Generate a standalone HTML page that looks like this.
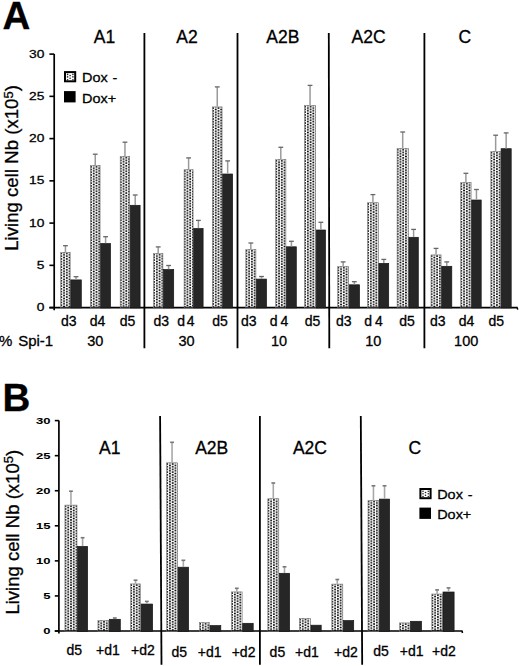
<!DOCTYPE html>
<html><head><meta charset="utf-8"><style>
html,body{margin:0;padding:0;background:#fff;width:520px;height:666px;overflow:hidden;position:relative}
</style></head><body>
<svg width="520" height="666" viewBox="0 0 520 666" style="position:absolute;left:0;top:0"><style>text{stroke:#000;stroke-width:0.3px} text.tk{stroke-width:0.25px} text.tkb{stroke-width:0.05px}</style><defs><pattern id="pa0" patternUnits="userSpaceOnUse" x="61.30" y="253.50" width="5.5" height="2.72"><g fill="#000"><circle cx="0" cy="0" r="1.0"/><circle cx="5.5" cy="0" r="1.0"/><circle cx="0" cy="2.72" r="1.0"/><circle cx="5.5" cy="2.72" r="1.0"/><circle cx="2.75" cy="1.36" r="1.0"/></g></pattern><pattern id="pa1" patternUnits="userSpaceOnUse" x="91.00" y="166.80" width="5.5" height="2.72"><g fill="#000"><circle cx="0" cy="0" r="1.0"/><circle cx="5.5" cy="0" r="1.0"/><circle cx="0" cy="2.72" r="1.0"/><circle cx="5.5" cy="2.72" r="1.0"/><circle cx="2.75" cy="1.36" r="1.0"/></g></pattern><pattern id="pa2" patternUnits="userSpaceOnUse" x="120.80" y="157.70" width="5.5" height="2.72"><g fill="#000"><circle cx="0" cy="0" r="1.0"/><circle cx="5.5" cy="0" r="1.0"/><circle cx="0" cy="2.72" r="1.0"/><circle cx="5.5" cy="2.72" r="1.0"/><circle cx="2.75" cy="1.36" r="1.0"/></g></pattern><pattern id="pa3" patternUnits="userSpaceOnUse" x="154.10" y="254.70" width="5.5" height="2.72"><g fill="#000"><circle cx="0" cy="0" r="1.0"/><circle cx="5.5" cy="0" r="1.0"/><circle cx="0" cy="2.72" r="1.0"/><circle cx="5.5" cy="2.72" r="1.0"/><circle cx="2.75" cy="1.36" r="1.0"/></g></pattern><pattern id="pa4" patternUnits="userSpaceOnUse" x="184.70" y="170.90" width="5.5" height="2.72"><g fill="#000"><circle cx="0" cy="0" r="1.0"/><circle cx="5.5" cy="0" r="1.0"/><circle cx="0" cy="2.72" r="1.0"/><circle cx="5.5" cy="2.72" r="1.0"/><circle cx="2.75" cy="1.36" r="1.0"/></g></pattern><pattern id="pa5" patternUnits="userSpaceOnUse" x="213.00" y="108.10" width="5.5" height="2.72"><g fill="#000"><circle cx="0" cy="0" r="1.0"/><circle cx="5.5" cy="0" r="1.0"/><circle cx="0" cy="2.72" r="1.0"/><circle cx="5.5" cy="2.72" r="1.0"/><circle cx="2.75" cy="1.36" r="1.0"/></g></pattern><pattern id="pa6" patternUnits="userSpaceOnUse" x="246.40" y="250.80" width="5.5" height="2.72"><g fill="#000"><circle cx="0" cy="0" r="1.0"/><circle cx="5.5" cy="0" r="1.0"/><circle cx="0" cy="2.72" r="1.0"/><circle cx="5.5" cy="2.72" r="1.0"/><circle cx="2.75" cy="1.36" r="1.0"/></g></pattern><pattern id="pa7" patternUnits="userSpaceOnUse" x="276.30" y="160.80" width="5.5" height="2.72"><g fill="#000"><circle cx="0" cy="0" r="1.0"/><circle cx="5.5" cy="0" r="1.0"/><circle cx="0" cy="2.72" r="1.0"/><circle cx="5.5" cy="2.72" r="1.0"/><circle cx="2.75" cy="1.36" r="1.0"/></g></pattern><pattern id="pa8" patternUnits="userSpaceOnUse" x="305.10" y="106.70" width="5.5" height="2.72"><g fill="#000"><circle cx="0" cy="0" r="1.0"/><circle cx="5.5" cy="0" r="1.0"/><circle cx="0" cy="2.72" r="1.0"/><circle cx="5.5" cy="2.72" r="1.0"/><circle cx="2.75" cy="1.36" r="1.0"/></g></pattern><pattern id="pa9" patternUnits="userSpaceOnUse" x="338.30" y="267.70" width="5.5" height="2.72"><g fill="#000"><circle cx="0" cy="0" r="1.0"/><circle cx="5.5" cy="0" r="1.0"/><circle cx="0" cy="2.72" r="1.0"/><circle cx="5.5" cy="2.72" r="1.0"/><circle cx="2.75" cy="1.36" r="1.0"/></g></pattern><pattern id="pa10" patternUnits="userSpaceOnUse" x="368.10" y="203.90" width="5.5" height="2.72"><g fill="#000"><circle cx="0" cy="0" r="1.0"/><circle cx="5.5" cy="0" r="1.0"/><circle cx="0" cy="2.72" r="1.0"/><circle cx="5.5" cy="2.72" r="1.0"/><circle cx="2.75" cy="1.36" r="1.0"/></g></pattern><pattern id="pa11" patternUnits="userSpaceOnUse" x="397.70" y="149.70" width="5.5" height="2.72"><g fill="#000"><circle cx="0" cy="0" r="1.0"/><circle cx="5.5" cy="0" r="1.0"/><circle cx="0" cy="2.72" r="1.0"/><circle cx="5.5" cy="2.72" r="1.0"/><circle cx="2.75" cy="1.36" r="1.0"/></g></pattern><pattern id="pa12" patternUnits="userSpaceOnUse" x="431.60" y="256.10" width="5.5" height="2.72"><g fill="#000"><circle cx="0" cy="0" r="1.0"/><circle cx="5.5" cy="0" r="1.0"/><circle cx="0" cy="2.72" r="1.0"/><circle cx="5.5" cy="2.72" r="1.0"/><circle cx="2.75" cy="1.36" r="1.0"/></g></pattern><pattern id="pa13" patternUnits="userSpaceOnUse" x="461.30" y="183.70" width="5.5" height="2.72"><g fill="#000"><circle cx="0" cy="0" r="1.0"/><circle cx="5.5" cy="0" r="1.0"/><circle cx="0" cy="2.72" r="1.0"/><circle cx="5.5" cy="2.72" r="1.0"/><circle cx="2.75" cy="1.36" r="1.0"/></g></pattern><pattern id="pa14" patternUnits="userSpaceOnUse" x="491.40" y="152.70" width="5.5" height="2.72"><g fill="#000"><circle cx="0" cy="0" r="1.0"/><circle cx="5.5" cy="0" r="1.0"/><circle cx="0" cy="2.72" r="1.0"/><circle cx="5.5" cy="2.72" r="1.0"/><circle cx="2.75" cy="1.36" r="1.0"/></g></pattern><pattern id="pb0" patternUnits="userSpaceOnUse" x="65.50" y="506.30" width="5.5" height="2.72"><g fill="#000"><circle cx="0" cy="0" r="1.0"/><circle cx="5.5" cy="0" r="1.0"/><circle cx="0" cy="2.72" r="1.0"/><circle cx="5.5" cy="2.72" r="1.0"/><circle cx="2.75" cy="1.36" r="1.0"/></g></pattern><pattern id="pb1" patternUnits="userSpaceOnUse" x="98.50" y="621.80" width="5.5" height="2.72"><g fill="#000"><circle cx="0" cy="0" r="1.0"/><circle cx="5.5" cy="0" r="1.0"/><circle cx="0" cy="2.72" r="1.0"/><circle cx="5.5" cy="2.72" r="1.0"/><circle cx="2.75" cy="1.36" r="1.0"/></g></pattern><pattern id="pb2" patternUnits="userSpaceOnUse" x="131.20" y="585.10" width="5.5" height="2.72"><g fill="#000"><circle cx="0" cy="0" r="1.0"/><circle cx="5.5" cy="0" r="1.0"/><circle cx="0" cy="2.72" r="1.0"/><circle cx="5.5" cy="2.72" r="1.0"/><circle cx="2.75" cy="1.36" r="1.0"/></g></pattern><pattern id="pb3" patternUnits="userSpaceOnUse" x="167.20" y="464.00" width="5.5" height="2.72"><g fill="#000"><circle cx="0" cy="0" r="1.0"/><circle cx="5.5" cy="0" r="1.0"/><circle cx="0" cy="2.72" r="1.0"/><circle cx="5.5" cy="2.72" r="1.0"/><circle cx="2.75" cy="1.36" r="1.0"/></g></pattern><pattern id="pb4" patternUnits="userSpaceOnUse" x="200.10" y="623.80" width="5.5" height="2.72"><g fill="#000"><circle cx="0" cy="0" r="1.0"/><circle cx="5.5" cy="0" r="1.0"/><circle cx="0" cy="2.72" r="1.0"/><circle cx="5.5" cy="2.72" r="1.0"/><circle cx="2.75" cy="1.36" r="1.0"/></g></pattern><pattern id="pb5" patternUnits="userSpaceOnUse" x="232.10" y="593.10" width="5.5" height="2.72"><g fill="#000"><circle cx="0" cy="0" r="1.0"/><circle cx="5.5" cy="0" r="1.0"/><circle cx="0" cy="2.72" r="1.0"/><circle cx="5.5" cy="2.72" r="1.0"/><circle cx="2.75" cy="1.36" r="1.0"/></g></pattern><pattern id="pb6" patternUnits="userSpaceOnUse" x="268.40" y="499.90" width="5.5" height="2.72"><g fill="#000"><circle cx="0" cy="0" r="1.0"/><circle cx="5.5" cy="0" r="1.0"/><circle cx="0" cy="2.72" r="1.0"/><circle cx="5.5" cy="2.72" r="1.0"/><circle cx="2.75" cy="1.36" r="1.0"/></g></pattern><pattern id="pb7" patternUnits="userSpaceOnUse" x="300.00" y="619.60" width="5.5" height="2.72"><g fill="#000"><circle cx="0" cy="0" r="1.0"/><circle cx="5.5" cy="0" r="1.0"/><circle cx="0" cy="2.72" r="1.0"/><circle cx="5.5" cy="2.72" r="1.0"/><circle cx="2.75" cy="1.36" r="1.0"/></g></pattern><pattern id="pb8" patternUnits="userSpaceOnUse" x="332.40" y="585.30" width="5.5" height="2.72"><g fill="#000"><circle cx="0" cy="0" r="1.0"/><circle cx="5.5" cy="0" r="1.0"/><circle cx="0" cy="2.72" r="1.0"/><circle cx="5.5" cy="2.72" r="1.0"/><circle cx="2.75" cy="1.36" r="1.0"/></g></pattern><pattern id="pb9" patternUnits="userSpaceOnUse" x="368.60" y="501.60" width="5.5" height="2.72"><g fill="#000"><circle cx="0" cy="0" r="1.0"/><circle cx="5.5" cy="0" r="1.0"/><circle cx="0" cy="2.72" r="1.0"/><circle cx="5.5" cy="2.72" r="1.0"/><circle cx="2.75" cy="1.36" r="1.0"/></g></pattern><pattern id="pb10" patternUnits="userSpaceOnUse" x="400.20" y="624.10" width="5.5" height="2.72"><g fill="#000"><circle cx="0" cy="0" r="1.0"/><circle cx="5.5" cy="0" r="1.0"/><circle cx="0" cy="2.72" r="1.0"/><circle cx="5.5" cy="2.72" r="1.0"/><circle cx="2.75" cy="1.36" r="1.0"/></g></pattern><pattern id="pb11" patternUnits="userSpaceOnUse" x="432.40" y="595.20" width="5.5" height="2.72"><g fill="#000"><circle cx="0" cy="0" r="1.0"/><circle cx="5.5" cy="0" r="1.0"/><circle cx="0" cy="2.72" r="1.0"/><circle cx="5.5" cy="2.72" r="1.0"/><circle cx="2.75" cy="1.36" r="1.0"/></g></pattern></defs><rect width="520" height="666" fill="#fff"/>
<g font-family='"Liberation Sans", sans-serif' fill="#000">
<text x="2.6" y="28.5" font-size="38.5" font-weight="bold">A</text>
<text x="2.5" y="410.8" font-size="38.5" font-weight="bold">B</text>
<line x1="54.2" y1="54.0" x2="54.2" y2="310.20000000000005" stroke="#000" stroke-width="1.7"/>
<line x1="49.4" y1="307.6" x2="517.7" y2="307.6" stroke="#000" stroke-width="1.9"/>
<line x1="517.2" y1="307.6" x2="517.7" y2="309.6" stroke="#000" stroke-width="1.5"/>
<line x1="144.4" y1="33.0" x2="144.4" y2="348.2" stroke="#000" stroke-width="1.8"/>
<line x1="237.5" y1="33.0" x2="237.5" y2="348.2" stroke="#000" stroke-width="1.8"/>
<line x1="328.8" y1="33.0" x2="329.3" y2="348.2" stroke="#000" stroke-width="1.8"/>
<line x1="424.4" y1="33.0" x2="424.4" y2="348.2" stroke="#000" stroke-width="1.8"/>
<line x1="49.4" y1="307.60" x2="54.2" y2="307.60" stroke="#000" stroke-width="1.6"/>
<text transform="translate(44.3,311.17) scale(1.35,1)" text-anchor="end" font-weight="normal" class="tk" font-size="10.2">0</text>
<line x1="49.4" y1="265.35" x2="54.2" y2="265.35" stroke="#000" stroke-width="1.6"/>
<text transform="translate(44.3,268.92) scale(1.35,1)" text-anchor="end" font-weight="normal" class="tk" font-size="10.2">5</text>
<line x1="49.4" y1="223.10" x2="54.2" y2="223.10" stroke="#000" stroke-width="1.6"/>
<text transform="translate(44.3,226.67) scale(1.35,1)" text-anchor="end" font-weight="normal" class="tk" font-size="10.2">10</text>
<line x1="49.4" y1="180.85" x2="54.2" y2="180.85" stroke="#000" stroke-width="1.6"/>
<text transform="translate(44.3,184.42) scale(1.35,1)" text-anchor="end" font-weight="normal" class="tk" font-size="10.2">15</text>
<line x1="49.4" y1="138.60" x2="54.2" y2="138.60" stroke="#000" stroke-width="1.6"/>
<text transform="translate(44.3,142.17) scale(1.35,1)" text-anchor="end" font-weight="normal" class="tk" font-size="10.2">20</text>
<line x1="49.4" y1="96.35" x2="54.2" y2="96.35" stroke="#000" stroke-width="1.6"/>
<text transform="translate(44.3,99.92) scale(1.35,1)" text-anchor="end" font-weight="normal" class="tk" font-size="10.2">25</text>
<line x1="49.4" y1="54.10" x2="54.2" y2="54.10" stroke="#000" stroke-width="1.6"/>
<text transform="translate(44.3,57.67) scale(1.35,1)" text-anchor="end" font-weight="normal" class="tk" font-size="10.2">30</text>
<line x1="58.9" y1="420.4" x2="58.9" y2="633.6" stroke="#000" stroke-width="1.7"/>
<line x1="54.8" y1="631.0" x2="462.5" y2="631.0" stroke="#000" stroke-width="1.6"/>
<line x1="462.0" y1="631.0" x2="462.5" y2="633.0" stroke="#000" stroke-width="1.5"/>
<line x1="160.1" y1="416.0" x2="161.5" y2="664.7" stroke="#000" stroke-width="1.8"/>
<line x1="259.9" y1="416.0" x2="259.9" y2="664.7" stroke="#000" stroke-width="1.8"/>
<line x1="360.8" y1="416.0" x2="362.2" y2="664.7" stroke="#000" stroke-width="1.8"/>
<line x1="54.8" y1="631.00" x2="58.9" y2="631.00" stroke="#000" stroke-width="1.6"/>
<text transform="translate(50.4,634.15) scale(1.45,1)" text-anchor="end" font-weight="bold" class="tkb" font-size="9.0">0</text>
<line x1="54.8" y1="595.93" x2="58.9" y2="595.93" stroke="#000" stroke-width="1.6"/>
<text transform="translate(50.4,599.08) scale(1.45,1)" text-anchor="end" font-weight="bold" class="tkb" font-size="9.0">5</text>
<line x1="54.8" y1="560.87" x2="58.9" y2="560.87" stroke="#000" stroke-width="1.6"/>
<text transform="translate(50.4,564.02) scale(1.45,1)" text-anchor="end" font-weight="bold" class="tkb" font-size="9.0">10</text>
<line x1="54.8" y1="525.80" x2="58.9" y2="525.80" stroke="#000" stroke-width="1.6"/>
<text transform="translate(50.4,528.95) scale(1.45,1)" text-anchor="end" font-weight="bold" class="tkb" font-size="9.0">15</text>
<line x1="54.8" y1="490.73" x2="58.9" y2="490.73" stroke="#000" stroke-width="1.6"/>
<text transform="translate(50.4,493.88) scale(1.45,1)" text-anchor="end" font-weight="bold" class="tkb" font-size="9.0">20</text>
<line x1="54.8" y1="455.67" x2="58.9" y2="455.67" stroke="#000" stroke-width="1.6"/>
<text transform="translate(50.4,458.82) scale(1.45,1)" text-anchor="end" font-weight="bold" class="tkb" font-size="9.0">25</text>
<line x1="54.8" y1="420.60" x2="58.9" y2="420.60" stroke="#000" stroke-width="1.6"/>
<text transform="translate(50.4,423.75) scale(1.45,1)" text-anchor="end" font-weight="bold" class="tkb" font-size="9.0">30</text>
<rect x="60.70" y="252.30" width="9.50" height="55.60" fill="url(#pa0)" stroke="#777" stroke-width="0.6"/>
<rect x="70.80" y="279.90" width="10.50" height="28.00" fill="#262626" stroke="#141414" stroke-width="0.7"/>
<line x1="65.45" y1="252.0" x2="65.45" y2="245.7" stroke="#9a9a9a" stroke-width="1.5"/>
<line x1="63.05" y1="245.7" x2="67.85" y2="245.7" stroke="#666" stroke-width="1.3"/>
<line x1="76.05" y1="279.6" x2="76.05" y2="276.7" stroke="#9a9a9a" stroke-width="1.5"/>
<line x1="73.65" y1="276.7" x2="78.45" y2="276.7" stroke="#666" stroke-width="1.3"/>
<rect x="90.40" y="165.60" width="9.70" height="142.30" fill="url(#pa1)" stroke="#777" stroke-width="0.6"/>
<rect x="100.70" y="243.50" width="9.80" height="64.40" fill="#262626" stroke="#141414" stroke-width="0.7"/>
<line x1="95.25" y1="165.3" x2="95.25" y2="154.2" stroke="#9a9a9a" stroke-width="1.5"/>
<line x1="92.85" y1="154.2" x2="97.65" y2="154.2" stroke="#666" stroke-width="1.3"/>
<line x1="105.60" y1="243.2" x2="105.60" y2="236.7" stroke="#9a9a9a" stroke-width="1.5"/>
<line x1="103.20" y1="236.7" x2="108.00" y2="236.7" stroke="#666" stroke-width="1.3"/>
<rect x="120.20" y="156.50" width="9.50" height="151.40" fill="url(#pa2)" stroke="#777" stroke-width="0.6"/>
<rect x="130.30" y="205.30" width="9.80" height="102.60" fill="#262626" stroke="#141414" stroke-width="0.7"/>
<line x1="124.95" y1="156.2" x2="124.95" y2="142.2" stroke="#9a9a9a" stroke-width="1.5"/>
<line x1="122.55" y1="142.2" x2="127.35" y2="142.2" stroke="#666" stroke-width="1.3"/>
<line x1="135.20" y1="205.0" x2="135.20" y2="195.0" stroke="#9a9a9a" stroke-width="1.5"/>
<line x1="132.80" y1="195.0" x2="137.60" y2="195.0" stroke="#666" stroke-width="1.3"/>
<rect x="153.50" y="253.50" width="9.40" height="54.40" fill="url(#pa3)" stroke="#777" stroke-width="0.6"/>
<rect x="163.50" y="269.50" width="10.20" height="38.40" fill="#262626" stroke="#141414" stroke-width="0.7"/>
<line x1="158.20" y1="253.2" x2="158.20" y2="246.9" stroke="#9a9a9a" stroke-width="1.5"/>
<line x1="155.80" y1="246.9" x2="160.60" y2="246.9" stroke="#666" stroke-width="1.3"/>
<line x1="168.60" y1="269.2" x2="168.60" y2="265.5" stroke="#9a9a9a" stroke-width="1.5"/>
<line x1="166.20" y1="265.5" x2="171.00" y2="265.5" stroke="#666" stroke-width="1.3"/>
<rect x="184.10" y="169.70" width="9.00" height="138.20" fill="url(#pa4)" stroke="#777" stroke-width="0.6"/>
<rect x="193.70" y="228.50" width="9.40" height="79.40" fill="#262626" stroke="#141414" stroke-width="0.7"/>
<line x1="188.60" y1="169.4" x2="188.60" y2="157.9" stroke="#9a9a9a" stroke-width="1.5"/>
<line x1="186.20" y1="157.9" x2="191.00" y2="157.9" stroke="#666" stroke-width="1.3"/>
<line x1="198.40" y1="228.2" x2="198.40" y2="220.4" stroke="#9a9a9a" stroke-width="1.5"/>
<line x1="196.00" y1="220.4" x2="200.80" y2="220.4" stroke="#666" stroke-width="1.3"/>
<rect x="212.40" y="106.90" width="9.70" height="201.00" fill="url(#pa5)" stroke="#777" stroke-width="0.6"/>
<rect x="222.70" y="174.00" width="9.90" height="133.90" fill="#262626" stroke="#141414" stroke-width="0.7"/>
<line x1="217.25" y1="106.6" x2="217.25" y2="86.9" stroke="#9a9a9a" stroke-width="1.5"/>
<line x1="214.85" y1="86.9" x2="219.65" y2="86.9" stroke="#666" stroke-width="1.3"/>
<line x1="227.65" y1="173.7" x2="227.65" y2="160.9" stroke="#9a9a9a" stroke-width="1.5"/>
<line x1="225.25" y1="160.9" x2="230.05" y2="160.9" stroke="#666" stroke-width="1.3"/>
<rect x="245.80" y="249.60" width="10.10" height="58.30" fill="url(#pa6)" stroke="#777" stroke-width="0.6"/>
<rect x="256.50" y="279.10" width="10.00" height="28.80" fill="#262626" stroke="#141414" stroke-width="0.7"/>
<line x1="250.85" y1="249.3" x2="250.85" y2="243.0" stroke="#9a9a9a" stroke-width="1.5"/>
<line x1="248.45" y1="243.0" x2="253.25" y2="243.0" stroke="#666" stroke-width="1.3"/>
<line x1="261.50" y1="278.8" x2="261.50" y2="276.5" stroke="#9a9a9a" stroke-width="1.5"/>
<line x1="259.10" y1="276.5" x2="263.90" y2="276.5" stroke="#666" stroke-width="1.3"/>
<rect x="275.70" y="159.60" width="10.20" height="148.30" fill="url(#pa7)" stroke="#777" stroke-width="0.6"/>
<rect x="286.50" y="246.80" width="9.80" height="61.10" fill="#262626" stroke="#141414" stroke-width="0.7"/>
<line x1="280.80" y1="159.3" x2="280.80" y2="147.3" stroke="#9a9a9a" stroke-width="1.5"/>
<line x1="278.40" y1="147.3" x2="283.20" y2="147.3" stroke="#666" stroke-width="1.3"/>
<line x1="291.40" y1="246.5" x2="291.40" y2="241.3" stroke="#9a9a9a" stroke-width="1.5"/>
<line x1="289.00" y1="241.3" x2="293.80" y2="241.3" stroke="#666" stroke-width="1.3"/>
<rect x="304.50" y="105.50" width="11.10" height="202.40" fill="url(#pa8)" stroke="#777" stroke-width="0.6"/>
<rect x="316.20" y="230.00" width="9.30" height="77.90" fill="#262626" stroke="#141414" stroke-width="0.7"/>
<line x1="310.05" y1="105.2" x2="310.05" y2="85.4" stroke="#9a9a9a" stroke-width="1.5"/>
<line x1="307.65" y1="85.4" x2="312.45" y2="85.4" stroke="#666" stroke-width="1.3"/>
<line x1="320.85" y1="229.7" x2="320.85" y2="222.3" stroke="#9a9a9a" stroke-width="1.5"/>
<line x1="318.45" y1="222.3" x2="323.25" y2="222.3" stroke="#666" stroke-width="1.3"/>
<rect x="337.70" y="266.50" width="10.90" height="41.40" fill="url(#pa9)" stroke="#777" stroke-width="0.6"/>
<rect x="349.20" y="284.80" width="10.30" height="23.10" fill="#262626" stroke="#141414" stroke-width="0.7"/>
<line x1="343.15" y1="266.2" x2="343.15" y2="261.9" stroke="#9a9a9a" stroke-width="1.5"/>
<line x1="340.75" y1="261.9" x2="345.55" y2="261.9" stroke="#666" stroke-width="1.3"/>
<line x1="354.35" y1="284.5" x2="354.35" y2="281.7" stroke="#9a9a9a" stroke-width="1.5"/>
<line x1="351.95" y1="281.7" x2="356.75" y2="281.7" stroke="#666" stroke-width="1.3"/>
<rect x="367.50" y="202.70" width="10.80" height="105.20" fill="url(#pa10)" stroke="#777" stroke-width="0.6"/>
<rect x="378.90" y="263.40" width="9.80" height="44.50" fill="#262626" stroke="#141414" stroke-width="0.7"/>
<line x1="372.90" y1="202.4" x2="372.90" y2="194.6" stroke="#9a9a9a" stroke-width="1.5"/>
<line x1="370.50" y1="194.6" x2="375.30" y2="194.6" stroke="#666" stroke-width="1.3"/>
<line x1="383.80" y1="263.1" x2="383.80" y2="259.4" stroke="#9a9a9a" stroke-width="1.5"/>
<line x1="381.40" y1="259.4" x2="386.20" y2="259.4" stroke="#666" stroke-width="1.3"/>
<rect x="397.10" y="148.50" width="11.20" height="159.40" fill="url(#pa11)" stroke="#777" stroke-width="0.6"/>
<rect x="408.90" y="237.30" width="9.40" height="70.60" fill="#262626" stroke="#141414" stroke-width="0.7"/>
<line x1="402.70" y1="148.2" x2="402.70" y2="132.0" stroke="#9a9a9a" stroke-width="1.5"/>
<line x1="400.30" y1="132.0" x2="405.10" y2="132.0" stroke="#666" stroke-width="1.3"/>
<line x1="413.60" y1="237.0" x2="413.60" y2="229.4" stroke="#9a9a9a" stroke-width="1.5"/>
<line x1="411.20" y1="229.4" x2="416.00" y2="229.4" stroke="#666" stroke-width="1.3"/>
<rect x="431.00" y="254.90" width="10.10" height="53.00" fill="url(#pa12)" stroke="#777" stroke-width="0.6"/>
<rect x="441.70" y="266.30" width="10.10" height="41.60" fill="#262626" stroke="#141414" stroke-width="0.7"/>
<line x1="436.05" y1="254.6" x2="436.05" y2="248.4" stroke="#9a9a9a" stroke-width="1.5"/>
<line x1="433.65" y1="248.4" x2="438.45" y2="248.4" stroke="#666" stroke-width="1.3"/>
<line x1="446.75" y1="266.0" x2="446.75" y2="261.9" stroke="#9a9a9a" stroke-width="1.5"/>
<line x1="444.35" y1="261.9" x2="449.15" y2="261.9" stroke="#666" stroke-width="1.3"/>
<rect x="460.70" y="182.50" width="10.40" height="125.40" fill="url(#pa13)" stroke="#777" stroke-width="0.6"/>
<rect x="471.70" y="200.00" width="9.50" height="107.90" fill="#262626" stroke="#141414" stroke-width="0.7"/>
<line x1="465.90" y1="182.2" x2="465.90" y2="173.3" stroke="#9a9a9a" stroke-width="1.5"/>
<line x1="463.50" y1="173.3" x2="468.30" y2="173.3" stroke="#666" stroke-width="1.3"/>
<line x1="476.45" y1="199.7" x2="476.45" y2="189.5" stroke="#9a9a9a" stroke-width="1.5"/>
<line x1="474.05" y1="189.5" x2="478.85" y2="189.5" stroke="#666" stroke-width="1.3"/>
<rect x="490.80" y="151.50" width="9.70" height="156.40" fill="url(#pa14)" stroke="#777" stroke-width="0.6"/>
<rect x="501.10" y="148.70" width="10.10" height="159.20" fill="#262626" stroke="#141414" stroke-width="0.7"/>
<line x1="495.65" y1="151.2" x2="495.65" y2="135.2" stroke="#9a9a9a" stroke-width="1.5"/>
<line x1="493.25" y1="135.2" x2="498.05" y2="135.2" stroke="#666" stroke-width="1.3"/>
<line x1="506.15" y1="148.4" x2="506.15" y2="132.9" stroke="#9a9a9a" stroke-width="1.5"/>
<line x1="503.75" y1="132.9" x2="508.55" y2="132.9" stroke="#666" stroke-width="1.3"/>
<rect x="64.90" y="505.10" width="12.10" height="126.20" fill="url(#pb0)" stroke="#777" stroke-width="0.6"/>
<rect x="77.60" y="546.40" width="10.00" height="84.90" fill="#262626" stroke="#141414" stroke-width="0.7"/>
<line x1="70.95" y1="504.8" x2="70.95" y2="491.2" stroke="#a8a8a8" stroke-width="1.6"/>
<line x1="69.05" y1="491.2" x2="72.85" y2="491.2" stroke="#777" stroke-width="1.6"/>
<line x1="82.60" y1="546.1" x2="82.60" y2="537.7" stroke="#a8a8a8" stroke-width="1.6"/>
<line x1="80.70" y1="537.7" x2="84.50" y2="537.7" stroke="#777" stroke-width="1.6"/>
<rect x="97.90" y="620.60" width="10.80" height="10.70" fill="url(#pb1)" stroke="#777" stroke-width="0.6"/>
<rect x="109.30" y="619.30" width="11.00" height="12.00" fill="#262626" stroke="#141414" stroke-width="0.7"/>
<line x1="114.80" y1="619.0" x2="114.80" y2="618.0" stroke="#a8a8a8" stroke-width="1.6"/>
<line x1="112.90" y1="618.0" x2="116.70" y2="618.0" stroke="#777" stroke-width="1.6"/>
<rect x="130.60" y="583.90" width="9.90" height="47.40" fill="url(#pb2)" stroke="#777" stroke-width="0.6"/>
<rect x="141.10" y="604.05" width="11.50" height="27.25" fill="#262626" stroke="#141414" stroke-width="0.7"/>
<line x1="135.55" y1="583.6" x2="135.55" y2="580.2" stroke="#a8a8a8" stroke-width="1.6"/>
<line x1="133.65" y1="580.2" x2="137.45" y2="580.2" stroke="#777" stroke-width="1.6"/>
<line x1="146.85" y1="603.75" x2="146.85" y2="601.4" stroke="#a8a8a8" stroke-width="1.6"/>
<line x1="144.95" y1="601.4" x2="148.75" y2="601.4" stroke="#777" stroke-width="1.6"/>
<rect x="166.60" y="462.80" width="10.90" height="168.50" fill="url(#pb3)" stroke="#777" stroke-width="0.6"/>
<rect x="178.10" y="567.20" width="10.50" height="64.10" fill="#262626" stroke="#141414" stroke-width="0.7"/>
<line x1="172.05" y1="462.5" x2="172.05" y2="442.3" stroke="#a8a8a8" stroke-width="1.6"/>
<line x1="170.15" y1="442.3" x2="173.95" y2="442.3" stroke="#777" stroke-width="1.6"/>
<line x1="183.35" y1="566.9" x2="183.35" y2="560.3" stroke="#a8a8a8" stroke-width="1.6"/>
<line x1="181.45" y1="560.3" x2="185.25" y2="560.3" stroke="#777" stroke-width="1.6"/>
<rect x="199.50" y="622.60" width="10.00" height="8.70" fill="url(#pb4)" stroke="#777" stroke-width="0.6"/>
<rect x="210.10" y="625.60" width="10.70" height="5.70" fill="#262626" stroke="#141414" stroke-width="0.7"/>
<rect x="231.50" y="591.90" width="10.60" height="39.40" fill="url(#pb5)" stroke="#777" stroke-width="0.6"/>
<rect x="242.70" y="623.30" width="10.50" height="8.00" fill="#262626" stroke="#141414" stroke-width="0.7"/>
<line x1="236.80" y1="591.6" x2="236.80" y2="588.3" stroke="#a8a8a8" stroke-width="1.6"/>
<line x1="234.90" y1="588.3" x2="238.70" y2="588.3" stroke="#777" stroke-width="1.6"/>
<rect x="267.80" y="498.70" width="11.00" height="132.60" fill="url(#pb6)" stroke="#777" stroke-width="0.6"/>
<rect x="279.40" y="573.30" width="10.20" height="58.00" fill="#262626" stroke="#141414" stroke-width="0.7"/>
<line x1="273.30" y1="498.4" x2="273.30" y2="483.0" stroke="#a8a8a8" stroke-width="1.6"/>
<line x1="271.40" y1="483.0" x2="275.20" y2="483.0" stroke="#777" stroke-width="1.6"/>
<line x1="284.50" y1="573.0" x2="284.50" y2="566.8" stroke="#a8a8a8" stroke-width="1.6"/>
<line x1="282.60" y1="566.8" x2="286.40" y2="566.8" stroke="#777" stroke-width="1.6"/>
<rect x="299.40" y="618.40" width="11.00" height="12.90" fill="url(#pb7)" stroke="#777" stroke-width="0.6"/>
<rect x="311.00" y="625.20" width="10.20" height="6.10" fill="#262626" stroke="#141414" stroke-width="0.7"/>
<rect x="331.80" y="584.10" width="11.00" height="47.20" fill="url(#pb8)" stroke="#777" stroke-width="0.6"/>
<rect x="343.40" y="620.60" width="10.30" height="10.70" fill="#262626" stroke="#141414" stroke-width="0.7"/>
<line x1="337.30" y1="583.8" x2="337.30" y2="579.5" stroke="#a8a8a8" stroke-width="1.6"/>
<line x1="335.40" y1="579.5" x2="339.20" y2="579.5" stroke="#777" stroke-width="1.6"/>
<rect x="368.00" y="500.40" width="10.90" height="130.90" fill="url(#pb9)" stroke="#777" stroke-width="0.6"/>
<rect x="379.50" y="499.10" width="10.10" height="132.20" fill="#262626" stroke="#141414" stroke-width="0.7"/>
<line x1="373.45" y1="500.1" x2="373.45" y2="485.8" stroke="#a8a8a8" stroke-width="1.6"/>
<line x1="371.55" y1="485.8" x2="375.35" y2="485.8" stroke="#777" stroke-width="1.6"/>
<line x1="384.55" y1="498.8" x2="384.55" y2="485.8" stroke="#a8a8a8" stroke-width="1.6"/>
<line x1="382.65" y1="485.8" x2="386.45" y2="485.8" stroke="#777" stroke-width="1.6"/>
<rect x="399.60" y="622.90" width="10.40" height="8.40" fill="url(#pb10)" stroke="#777" stroke-width="0.6"/>
<rect x="410.60" y="621.30" width="10.90" height="10.00" fill="#262626" stroke="#141414" stroke-width="0.7"/>
<rect x="431.80" y="594.00" width="10.60" height="37.30" fill="url(#pb11)" stroke="#777" stroke-width="0.6"/>
<rect x="443.00" y="592.00" width="11.10" height="39.30" fill="#262626" stroke="#141414" stroke-width="0.7"/>
<line x1="437.10" y1="593.7" x2="437.10" y2="589.9" stroke="#a8a8a8" stroke-width="1.6"/>
<line x1="435.20" y1="589.9" x2="439.00" y2="589.9" stroke="#777" stroke-width="1.6"/>
<line x1="448.55" y1="591.7" x2="448.55" y2="587.9" stroke="#a8a8a8" stroke-width="1.6"/>
<line x1="446.65" y1="587.9" x2="450.45" y2="587.9" stroke="#777" stroke-width="1.6"/>
<text x="93.8" y="42.9" font-size="17.5">A1</text>
<text x="176.3" y="42.9" font-size="17.5">A2</text>
<text x="266.3" y="42.9" font-size="17.5">A2B</text>
<text x="351.5" y="42.9" font-size="17.5">A2C</text>
<text x="458.5" y="42.9" font-size="17.5">C</text>
<text x="99.0" y="454.3" font-size="17.5">A1</text>
<text x="195.2" y="454.3" font-size="17.5">A2B</text>
<text x="292.9" y="454.3" font-size="17.5">A2C</text>
<text x="408.5" y="454.3" font-size="17.5">C</text>
<text transform="translate(18.3,250.8) rotate(-90)" font-size="18.5"><tspan x="0" textLength="152.2" lengthAdjust="spacing">Living cell Nb (x10</tspan><tspan font-size="13" dy="-5.8">5</tspan><tspan dy="5.8">)</tspan></text>
<text transform="translate(18.5,614.6) rotate(-90)" font-size="18.5"><tspan x="0" textLength="151.3" lengthAdjust="spacing">Living cell Nb (x10</tspan><tspan font-size="13" dy="-5.8">5</tspan><tspan dy="5.8">)</tspan></text>
<rect x="65.0" y="72.1" width="10.2" height="9.2" fill="#fff" stroke="#000" stroke-width="2.0"/>
<g fill="#222"><circle cx="67.60" cy="74.40" r="0.8"/><circle cx="70.10" cy="75.60" r="0.8"/><circle cx="72.90" cy="74.40" r="0.8"/><circle cx="67.60" cy="76.90" r="0.8"/><circle cx="72.90" cy="76.90" r="0.8"/><circle cx="70.10" cy="78.30" r="0.8"/><circle cx="67.60" cy="79.70" r="0.8"/><circle cx="72.90" cy="79.70" r="0.8"/></g>
<rect x="64.0" y="91.1" width="11.6" height="11.3" fill="#000"/>
<text transform="translate(82.0,82.2) scale(1.07,1)" font-size="13.5">Dox<tspan dx="4.5">-</tspan></text>
<text transform="translate(82.0,102.7) scale(1.07,1)" font-size="13.5">Dox+</text>
<rect x="420.4" y="489.0" width="10.2" height="9.2" fill="#fff" stroke="#000" stroke-width="2.0"/>
<g fill="#222"><circle cx="423.00" cy="491.30" r="0.8"/><circle cx="425.50" cy="492.50" r="0.8"/><circle cx="428.30" cy="491.30" r="0.8"/><circle cx="423.00" cy="493.80" r="0.8"/><circle cx="428.30" cy="493.80" r="0.8"/><circle cx="425.50" cy="495.20" r="0.8"/><circle cx="423.00" cy="496.60" r="0.8"/><circle cx="428.30" cy="496.60" r="0.8"/></g>
<rect x="419.4" y="507.6" width="11.6" height="11.3" fill="#000"/>
<text transform="translate(437.2,498.8) scale(1.07,1)" font-size="13.5">Dox<tspan dx="4.5">-</tspan></text>
<text transform="translate(437.2,518.8) scale(1.07,1)" font-size="13.5">Dox+</text>
<text x="61.0" y="326.0" font-size="14">d3</text>
<text x="89.8" y="326.0" font-size="14">d4</text>
<text x="119.8" y="326.0" font-size="14">d5</text>
<text x="153.5" y="326.0" font-size="14">d3</text>
<text x="177.3" y="326.0" font-size="14">d<tspan dx="1.7">4</tspan></text>
<text x="212.3" y="326.0" font-size="14">d5</text>
<text x="241.0" y="326.0" font-size="14">d3</text>
<text x="269.8" y="326.0" font-size="14">d<tspan dx="2.8">4</tspan></text>
<text x="304.8" y="326.0" font-size="14">d5</text>
<text x="336.0" y="326.0" font-size="14">d3</text>
<text x="364.3" y="326.0" font-size="14">d<tspan dx="2.8">4</tspan></text>
<text x="399.3" y="326.0" font-size="14">d5</text>
<text x="429.9" y="326.0" font-size="14">d3</text>
<text x="458.8" y="326.0" font-size="14">d4</text>
<text x="488.5" y="326.0" font-size="14">d5</text>
<text x="-1.0" y="346.4" font-size="15">%</text>
<text x="18.2" y="346.4" font-size="15">Spi-1</text>
<text x="87.2" y="346.2" font-size="14.5">30</text>
<text x="178.5" y="346.2" font-size="14.5">30</text>
<text x="270.9" y="346.2" font-size="14.5">10</text>
<text x="365.2" y="346.2" font-size="14.5">10</text>
<text x="454.1" y="346.2" font-size="14.5">100</text>
<text x="66.4" y="654.8" font-size="14">d5</text>
<text x="96.1" y="654.8" font-size="14">+d1</text>
<text x="131.0" y="654.8" font-size="14">+d2</text>
<text x="171.4" y="656.8" font-size="14">d5</text>
<text x="197.8" y="656.8" font-size="14">+d1</text>
<text x="231.7" y="656.8" font-size="14">+d2</text>
<text x="269.6" y="656.8" font-size="14">d5</text>
<text x="295.0" y="656.8" font-size="14">+d1</text>
<text x="334.1" y="656.8" font-size="14">+d2</text>
<text x="373.3" y="656.3" font-size="14">d5</text>
<text x="399.8" y="656.3" font-size="14">+d1</text>
<text x="432.1" y="656.3" font-size="14">+d2</text>
</g></svg>
</body></html>
